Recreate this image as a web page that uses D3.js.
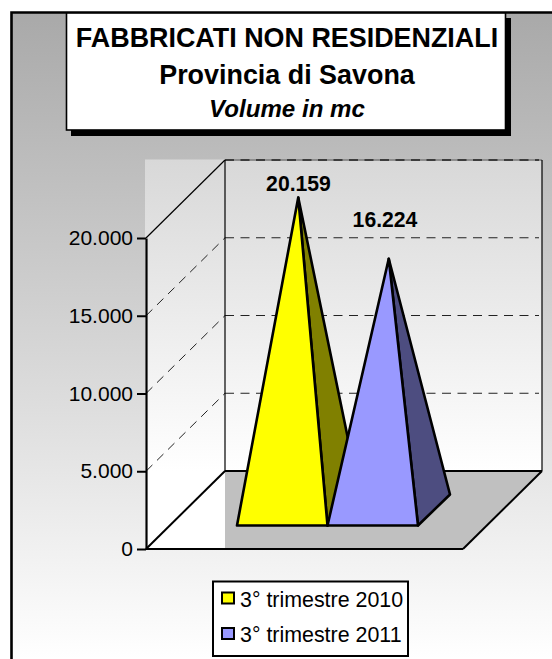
<!DOCTYPE html>
<html><head><meta charset="utf-8">
<script src="https://cdn.jsdelivr.net/npm/d3@7"></script>
<style>html,body{margin:0;padding:0;background:#fff}svg{display:block}text{font-family:"Liberation Sans",Arial,sans-serif;fill:#000}</style>
</head><body><svg id="c" width="552" height="659"></svg>
<script>
const series = ["3° trimestre 2010","3° trimestre 2011"];
const values = [20159,16224];
const valueLabels = ["20.159","16.224"];
const frontColors = ["#ffff00","#9999ff"];
const sideColors = ["#808000","#4d4d80"];
const yTicks = [0,5000,10000,15000,20000];
const gridValues = [5000,10000,15000];
const titleLines = ["FABBRICATI NON RESIDENZIALI","Provincia di Savona","Volume in mc"];

const svg = d3.select("#c");
const defs = svg.append("defs");
const grad = (id,stops)=>{const g=defs.append("linearGradient").attr("id",id).attr("x1",0).attr("y1",0).attr("x2",0).attr("y2",1);
  stops.forEach(([o,c])=>g.append("stop").attr("offset",o).attr("stop-color",c));};
grad("bg",[[0,"#a9a9a9"],[1,"#ffffff"]]);
grad("wall",[[0,"#d8d8d8"],[1,"#ffffff"]]);

// page frame
svg.append("rect").attr("x",12).attr("y",13).attr("width",540).attr("height",646).attr("fill","url(#bg)");
svg.append("path").attr("d","M11.5,659V12.5H552").attr("fill","none").attr("stroke","#000").attr("stroke-width",2.6);

// 3D geometry
const front = {left:146,right:463,bottom:549};
const depth = {dx:79,dy:-78};
const y = d3.scaleLinear().domain([0,20000]).range([front.bottom,238]);
const back = v=>y(v)+depth.dy;
const backX0 = front.left+depth.dx, backX1 = front.right+depth.dx;
const line = d3.line();

// walls
svg.append("rect").attr("x",145).attr("y",back(20000)-0.5).attr("width",backX1-145).attr("height",back(0)-back(20000)+0.5).attr("fill","url(#wall)");
svg.append("rect").attr("x",145).attr("y",back(0)).attr("width",backX0-145).attr("height",front.bottom-back(0)).attr("fill","#fff");
svg.append("path").attr("d",line([[backX0,back(0)],[backX1,back(0)],[front.right,front.bottom],[backX0,front.bottom]])).attr("fill","#c0c0c0");

// gridlines
const dash="9,6.5";
svg.append("line").attr("x1",backX0).attr("x2",backX1).attr("y1",back(20000)).attr("y2",back(20000)).attr("stroke","#777").attr("stroke-width",1.5);
svg.selectAll(".gb").data(gridValues.concat([20000])).join("line").attr("x1",backX0).attr("x2",backX1-3)
  .attr("y1",d=>back(d)).attr("y2",d=>back(d)).attr("stroke","#222").attr("stroke-width",d=>d==20000?1.5:1).attr("stroke-dasharray",dash);
svg.selectAll(".gd").data(gridValues).join("line").attr("x1",front.left).attr("y1",d=>y(d)).attr("x2",backX0).attr("y2",d=>back(d))
  .attr("stroke","#222").attr("stroke-dasharray",dash);

// wall and floor edges
const edge=(a,b,w)=>svg.append("path").attr("d",line([a,b])).attr("fill","none").attr("stroke","#000").attr("stroke-width",w);
edge([front.left,y(20000)],[backX0,back(20000)],1.2);
edge([backX0,back(20000)],[backX0,back(0)],1.2);
edge([backX1,back(20000)],[backX1,back(0)],1.2);
edge([backX0,back(0)],[backX1,back(0)],2);
edge([front.left,front.bottom],[backX0,back(0)],2);
edge([front.right,front.bottom],[backX1,back(0)],2);
edge([front.left,front.bottom],[front.right,front.bottom],2);

// pyramids
const x = d3.scaleBand().domain(series).range([237,418]);
const baseY = 525.5, off = {dx:32,dy:-31}, apexCentreY = 511;
const h = d3.scaleLinear().domain([0,20000]).range([0,y(0)-y(20000)]);
series.forEach((s,i)=>{
  const x0=x(s), x1=x0+x.bandwidth();
  const apex=[(x0+x1)/2+off.dx/2, apexCentreY-h(values[i])];
  const st=p=>p.attr("stroke","#000").attr("stroke-width",2.6).attr("stroke-linejoin","round");
  st(svg.append("path").attr("d",line([apex,[x1,baseY],[x1+off.dx,baseY+off.dy]])+"Z").attr("fill",sideColors[i]));
  st(svg.append("path").attr("d",line([apex,[x0,baseY],[x1,baseY]])+"Z").attr("fill",frontColors[i]));
});

// axis
const fmt = d3.formatLocale({decimal:",",thousands:".",grouping:[3],currency:["","€"]}).format(",");
const ax = svg.append("g").attr("transform",`translate(${front.left},0)`)
  .call(d3.axisLeft(y).tickValues(yTicks).tickFormat(fmt).tickSize(9).tickPadding(4).tickSizeOuter(0));
ax.select(".domain").attr("stroke","#000").attr("stroke-width",2.2);
ax.selectAll(".tick line").attr("stroke","#000").attr("stroke-width",2);
ax.selectAll("text").style("font-size","21px").attr("fill","#000");

// value labels
const labelX=[298.5,385], labelY=[190.5,226.7];
svg.selectAll(".vl").data(valueLabels).join("text").attr("x",(d,i)=>labelX[i]).attr("y",(d,i)=>labelY[i])
  .attr("text-anchor","middle").attr("font-weight","bold").attr("font-size",21.2).text(d=>d);

// title box
svg.append("rect").attr("x",71).attr("y",18).attr("width",440).attr("height",118).attr("fill","#000");
svg.append("rect").attr("x",66.5).attr("y",13).attr("width",439).attr("height",117).attr("fill","#fff").attr("stroke","#000").attr("stroke-width",1.6);
const tY=[47,83.5,116.5], tS=[26.9,26.9,24.1];
svg.selectAll(".t").data(titleLines).join("text").attr("x",287).attr("y",(d,i)=>tY[i]).attr("text-anchor","middle")
  .attr("font-weight","bold").attr("font-style",(d,i)=>i==2?"italic":"normal").attr("font-size",(d,i)=>tS[i]).text(d=>d);

// legend
svg.append("rect").attr("x",213).attr("y",581.5).attr("width",195).attr("height",74.5).attr("fill","#fff").attr("stroke","#000").attr("stroke-width",2);
const sy=[592.5,628], by=[606.5,642];
series.forEach((s,i)=>{
  svg.append("rect").attr("x",222).attr("y",sy[i]).attr("width",12).attr("height",11).attr("fill",frontColors[i]).attr("stroke","#000").attr("stroke-width",2);
  svg.append("text").attr("x",240).attr("y",by[i]).attr("font-size",21.4).text(s);
});
</script></body></html>
